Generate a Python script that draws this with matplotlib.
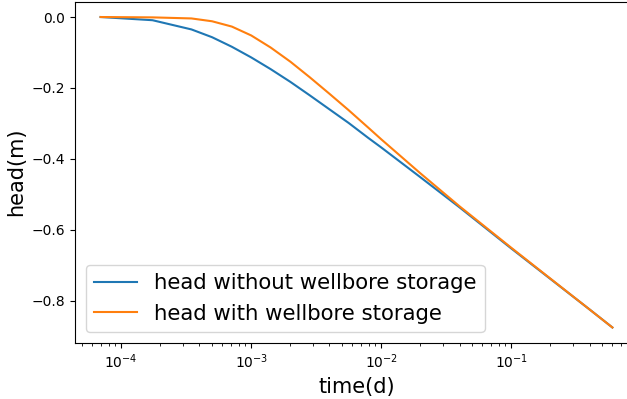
import matplotlib
matplotlib.use("Agg")
import matplotlib.pyplot as plt

# time in days
time_d = [6.94e-5, 1.74e-4, 3.47e-4, 5.0e-4, 7.1e-4, 1.0e-3, 1.41e-3, 2.0e-3,
          2.82e-3, 3.98e-3, 5.62e-3, 7.94e-3, 1.0e-2, 2.0e-2, 4.0e-2,
          1.0e-1, 2.0e-1, 4.0e-1, 6.0e-1]

# head (m)
head_no_storage = [-0.000, -0.009, -0.035, -0.057, -0.084, -0.114, -0.147, -0.183,
                   -0.221, -0.260, -0.299, -0.341, -0.368, -0.452, -0.537,
                   -0.653, -0.739, -0.825, -0.876]
head_storage = [-0.000, -0.001, -0.004, -0.012, -0.027, -0.052, -0.086, -0.126,
                -0.170, -0.216, -0.263, -0.312, -0.345, -0.441, -0.534,
                -0.651, -0.738, -0.825, -0.876]

fig = plt.figure(figsize=(6.27, 3.99), dpi=100)
ax = fig.add_axes([75 / 627, 56 / 399, 563 / 627, 341.5 / 399])

ax.plot(time_d, head_no_storage, label="head without wellbore storage")
ax.plot(time_d, head_storage, label="head with wellbore storage")
ax.set_xscale("log")
ax.set_xlabel("time(d)", fontsize=15)
ax.set_ylabel("head(m)", fontsize=15)
ax.legend(loc="lower left", fontsize=15.3)

fig.savefig("out.png", dpi=100)
